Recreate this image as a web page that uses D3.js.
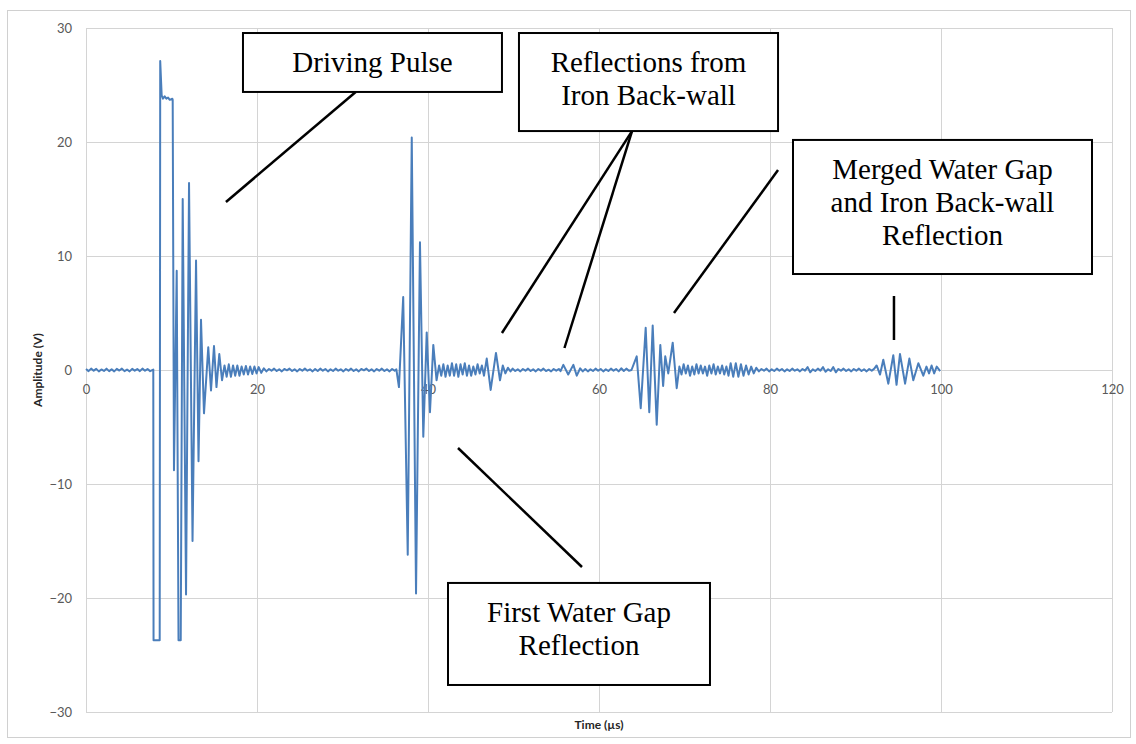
<!DOCTYPE html>
<html>
<head>
<meta charset="utf-8">
<script src="https://cdn.jsdelivr.net/npm/d3@7"></script>
<style>
  body { margin: 0; background: #fff; }
  .tick text { font-family: Lato, "Open Sans", sans-serif; font-size: 13px; fill: #595959; }
  .axis-title { font-family: Lato, "Open Sans", sans-serif; font-size: 12px; font-weight: bold; fill: #262626; }
  .callout text { font-family: "Liberation Serif", "Times New Roman", serif; font-size: 29px; fill: #000; }
</style>
</head>
<body>
<script>
// ---- waveform, [time (µs), amplitude (V)] ----
const preTrigger = [[0,0.08],[0.3,-0.1],[0.6,0.12],[0.9,-0.06],[1.2,0.1],[1.5,-0.12],[1.8,0.05],[2.1,-0.08],[2.4,0.12],[2.7,-0.1],[3.0,0.06],[3.3,-0.12],[3.6,0.1],[3.9,-0.05],[4.2,0.12],[4.5,-0.1],[4.8,0.04],[5.1,-0.12],[5.4,0.1],[5.7,-0.06],[6.0,0.08],[6.3,-0.1],[6.6,0.12],[6.9,-0.06],[7.2,0.08],[7.5,-0.1],[7.87,0.04]];
const drivePulse = [[7.9,-23.7],[8.62,-23.7],[8.68,27.1],[8.85,24.1],[9.0,23.8],[9.2,24.0],[9.4,23.8],[9.6,23.9],[9.8,23.7],[10.1,23.8],[10.14,23.7]];
const driveRing = [[10.29,-8.8],[10.61,8.7],[10.82,-23.7],[11.08,-23.7],[11.31,15.0],[11.70,-19.7],[12.05,16.4],[12.46,-15.0],[12.87,9.6],[13.16,-8.0],[13.45,4.4],[13.80,-3.8],[14.30,2.0],[14.62,-1.8],[14.97,2.1],[15.26,-1.5],[15.59,1.4],[15.91,-0.9],[16.2,0.4],[16.45,-0.6],[16.7,0.5],[16.95,-0.6],[17.2,0.4],[17.45,-0.5],[17.7,0.4],[17.95,-0.5],[18.2,0.3],[18.45,-0.4],[18.7,0.35],[18.95,-0.4],[19.2,0.3],[19.45,-0.35],[19.7,0.3],[19.95,-0.3],[20.2,0.25],[20.5,-0.25],[20.8,0.15]];
const quiet1 = [[21.1,-0.12],[21.4,0.09],[21.7,-0.06],[22.0,0.12],[22.3,-0.09],[22.6,0.06],[22.9,-0.12],[23.2,0.09],[23.5,-0.03],[23.8,0.12],[24.1,-0.09],[24.4,0.06],[24.7,-0.12],[25.0,0.09],[25.3,-0.06],[25.6,0.12],[25.9,-0.06],[26.2,0.06],[26.5,-0.12],[26.8,0.09],[27.1,-0.09],[27.4,0.12],[27.7,-0.06],[28.0,0.09],[28.3,-0.12],[28.6,0.06],[28.9,-0.09],[29.2,0.12],[29.5,-0.06],[29.8,0.06],[30.1,-0.12],[30.4,0.09],[30.7,-0.06],[31.0,0.12],[31.3,-0.09],[31.6,0.06],[31.9,-0.12],[32.2,0.09],[32.5,-0.03],[32.8,0.12],[33.1,-0.09],[33.4,0.06],[33.7,-0.12],[34.0,0.09],[34.3,-0.06],[34.6,0.12],[34.9,-0.09],[35.2,0.06],[35.5,-0.12],[35.8,0.09],[36.1,-0.06]];
const waterGapEcho = [[36.3,0.05],[36.6,-1.5],[37.1,6.4],[37.63,-16.2],[38.1,20.4],[38.6,-19.6],[39.06,11.2],[39.45,-5.85],[39.85,3.3],[40.23,-3.7],[40.62,2.2],[41.0,-0.9],[41.3,0.4],[41.55,-0.5],[41.8,0.5],[42.05,-0.6],[42.3,0.4],[42.55,-0.5],[42.8,0.6],[43.05,-0.5],[43.3,0.5],[43.55,-0.6],[43.8,0.5],[44.05,-0.4],[44.3,0.6],[44.55,-0.5],[44.8,0.4],[45.05,-0.5],[45.3,0.3],[45.55,-0.4],[45.8,0.5],[46.05,-0.3]];
const ironEcho1 = [[46.3,0.4],[46.55,-0.5],[46.87,1.0],[47.33,-1.75],[47.95,1.5],[48.42,-0.9],[48.75,0.4],[49.05,-0.3],[49.35,0.2],[49.65,-0.12]];
const quiet2 = [[49.9,0.12],[50.2,-0.09],[50.5,0.06],[50.8,-0.12],[51.1,0.09],[51.4,-0.06],[51.7,0.12],[52.0,-0.09],[52.3,0.06],[52.6,-0.12],[52.9,0.09],[53.2,-0.06],[53.5,0.12],[53.8,-0.09],[54.1,0.03],[54.4,-0.12],[54.7,0.09],[55.0,-0.06],[55.3,0.09]];
const ironEcho2 = [[55.5,-0.1],[55.83,0.45],[56.4,-0.4],[57.0,0.45],[57.4,-0.5],[57.8,0.15],[58.1,-0.12]];
const quiet3 = [[58.4,0.09],[58.7,-0.12],[59.0,0.06],[59.3,-0.09],[59.6,0.12],[59.9,-0.06],[60.2,0.09],[60.5,-0.12],[60.8,0.06],[61.1,-0.09],[61.4,0.12],[61.7,-0.06],[62.0,0.09],[62.3,-0.12],[62.6,0.15],[62.9,-0.09],[63.2,0.12],[63.5,-0.06]];
const mergedEcho = [[63.8,0.0],[64.41,1.2],[64.88,-3.35],[65.46,3.7],[65.88,-3.7],[66.28,3.9],[66.75,-4.8],[67.17,2.2],[67.5,-1.4],[67.75,1.2],[68.1,-0.3],[68.62,2.4],[69.09,-1.6]];
const mergedTail = [[69.4,0.3],[69.65,-0.4],[69.9,0.5],[70.15,-0.3],[70.4,0.4],[70.65,-0.5],[70.9,0.3],[71.15,-0.4],[71.4,0.5],[71.65,-0.3],[71.9,0.4],[72.15,-0.3],[72.4,0.3],[72.65,-0.5],[72.9,0.4],[73.15,-0.3],[73.4,0.5],[73.65,-0.4],[73.9,0.3],[74.15,-0.3],[74.4,0.4],[74.65,-0.4],[74.9,0.3],[75.15,-0.5],[75.4,0.6],[75.7,-0.6],[76.0,0.6],[76.3,-0.6],[76.6,0.5],[76.9,-0.5],[77.2,0.4],[77.5,-0.4],[77.8,0.3],[78.1,-0.3],[78.4,0.2]];
const quiet4 = [[78.7,-0.12],[79.0,0.09],[79.3,-0.06],[79.6,0.12],[79.9,-0.12],[80.2,0.06],[80.5,-0.09],[80.8,0.12],[81.1,-0.06],[81.4,0.09],[81.7,-0.12],[82.0,0.06],[82.3,-0.09],[82.6,0.12],[82.9,-0.06],[83.2,0.06],[83.5,-0.12],[83.8,0.09],[84.1,-0.06],[84.4,0.25],[84.7,-0.2],[85.0,0.06],[85.3,-0.09],[85.6,0.12],[85.9,-0.06],[86.2,0.25],[86.5,-0.15],[86.8,0.06],[87.1,-0.09],[87.4,0.25],[87.7,-0.2],[88.0,0.09],[88.3,-0.06],[88.6,0.12],[88.9,-0.09],[89.2,0.06],[89.5,-0.12],[89.8,0.09],[90.1,-0.06],[90.4,0.12],[90.7,-0.09],[91.0,0.06],[91.3,-0.12],[91.6,0.09],[91.9,-0.06],[92.2,0.12]];
const lateEcho = [[92.47,0.4],[92.87,-0.4],[93.25,0.9],[93.84,-1.2],[94.42,1.3],[94.8,-1.3],[95.2,1.4],[95.8,-1.2],[96.3,1.0],[96.76,-0.9],[97.35,0.6],[97.93,-0.5],[98.3,0.3],[98.6,-0.3],[98.9,0.4],[99.2,-0.3],[99.5,0.3],[99.9,-0.1]];

const xTicks = [0, 20, 40, 60, 80, 100, 120];
const yTicks = [-30, -20, -10, 0, 10, 20, 30];

// callout texts
const calloutText = [
  ["Driving Pulse"],
  ["Reflections from", "Iron Back-wall"],
  ["Merged Water Gap", "and Iron Back-wall", "Reflection"],
  ["First Water Gap", "Reflection"]
];

// ---- layout ----
const W = 1136, H = 744;
const plot = { left: 86, right: 1112, top: 28, bottom: 712 };

// callout boxes [t0, t1, vTop, vBottom] and leader lines [t1, v1, t2, v2], in data units
const calloutBoxes = [
  [18.36, 48.65, 29.56, 24.39],
  [50.64, 80.94, 29.56, 20.96],
  [82.69, 117.66, 20.18, 8.42],
  [42.34, 72.98, -18.68, -27.63]
];
const leaders = [
  [31.54, 24.39, 16.37, 14.74],
  [63.86, 20.96, 48.65, 3.25],
  [63.86, 20.96, 55.96, 1.93],
  [80.94, 17.54, 68.77, 5.0],
  [94.5, 6.49, 94.5, 2.63],
  [43.51, -6.84, 58.01, -17.28]
];

const trace = [].concat(preTrigger, drivePulse, driveRing, quiet1, waterGapEcho,
  ironEcho1, quiet2, ironEcho2, quiet3, mergedEcho, mergedTail, quiet4, lateEcho);

const svg = d3.select('body')
  .append('svg')
  .attr('width', W)
  .attr('height', H);

// chart frame
svg.append('rect')
  .attr('x', 7.5).attr('y', 10.5)
  .attr('width', 1123).attr('height', 727)
  .attr('fill', '#fff')
  .attr('stroke', '#d0d0d0');

const x = d3.scaleLinear().domain([0, 120]).range([plot.left, plot.right]);
const y = d3.scaleLinear().domain([-30, 30]).range([plot.bottom, plot.top]);

// gridlines
svg.append('g')
  .selectAll('line')
  .data(xTicks)
  .enter()
  .append('line')
  .attr('x1', d => x(d) + 0.5).attr('x2', d => x(d) + 0.5)
  .attr('y1', plot.top).attr('y2', plot.bottom)
  .attr('stroke', '#d4d4d4');

svg.append('g')
  .selectAll('line')
  .data(yTicks)
  .enter()
  .append('line')
  .attr('x1', plot.left).attr('x2', plot.right)
  .attr('y1', d => y(d) + 0.5).attr('y2', d => y(d) + 0.5)
  .attr('stroke', '#d4d4d4');

// axes (labels only, Excel style: x labels sit under the zero line)
const xAxis = d3.axisBottom(x).tickValues(xTicks).tickSize(0).tickPadding(15);
const yAxis = d3.axisLeft(y).tickValues(yTicks).tickSize(0).tickPadding(14);

svg.append('g')
  .attr('id', 'x-axis')
  .attr('transform', 'translate(0,' + y(0) + ')')
  .call(xAxis)
  .call(g => g.select('.domain').remove());

svg.append('g')
  .attr('id', 'y-axis')
  .attr('transform', 'translate(' + plot.left + ',0)')
  .call(yAxis)
  .call(g => g.select('.domain').remove());

svg.append('text')
  .attr('class', 'axis-title')
  .attr('x', (plot.left + plot.right) / 2)
  .attr('y', 729)
  .attr('text-anchor', 'middle')
  .text('Time (µs)');

svg.append('text')
  .attr('class', 'axis-title')
  .attr('transform', 'translate(42,' + y(0) + ') rotate(-90)')
  .attr('text-anchor', 'middle')
  .text('Amplitude (V)');

// the trace
const line = d3.line()
  .x(d => x(d[0]))
  .y(d => y(d[1]));

svg.append('path')
  .datum(trace)
  .attr('d', line)
  .attr('fill', 'none')
  .attr('stroke', '#4a7ebb')
  .attr('stroke-width', 2)
  .attr('stroke-linejoin', 'round');

// callouts
const callouts = svg.append('g').attr('class', 'callout');

callouts.selectAll('line')
  .data(leaders)
  .enter()
  .append('line')
  .attr('x1', d => x(d[0])).attr('y1', d => y(d[1]))
  .attr('x2', d => x(d[2])).attr('y2', d => y(d[3]))
  .attr('stroke', '#000')
  .attr('stroke-width', 2.5);

const lineGap = 33;
calloutBoxes.forEach((b, i) => {
  const x0 = x(b[0]), x1 = x(b[1]), y0 = y(b[2]), y1 = y(b[3]);
  callouts.append('rect')
    .attr('x', x0).attr('y', y0)
    .attr('width', x1 - x0).attr('height', y1 - y0)
    .attr('fill', '#fff')
    .attr('stroke', '#000')
    .attr('stroke-width', 2);
  calloutText[i].forEach((t, j) => {
    callouts.append('text')
      .attr('x', (x0 + x1) / 2)
      .attr('y', y0 + 39 + j * lineGap)
      .attr('text-anchor', 'middle')
      .text(t);
  });
});
</script>
</body>
</html>
